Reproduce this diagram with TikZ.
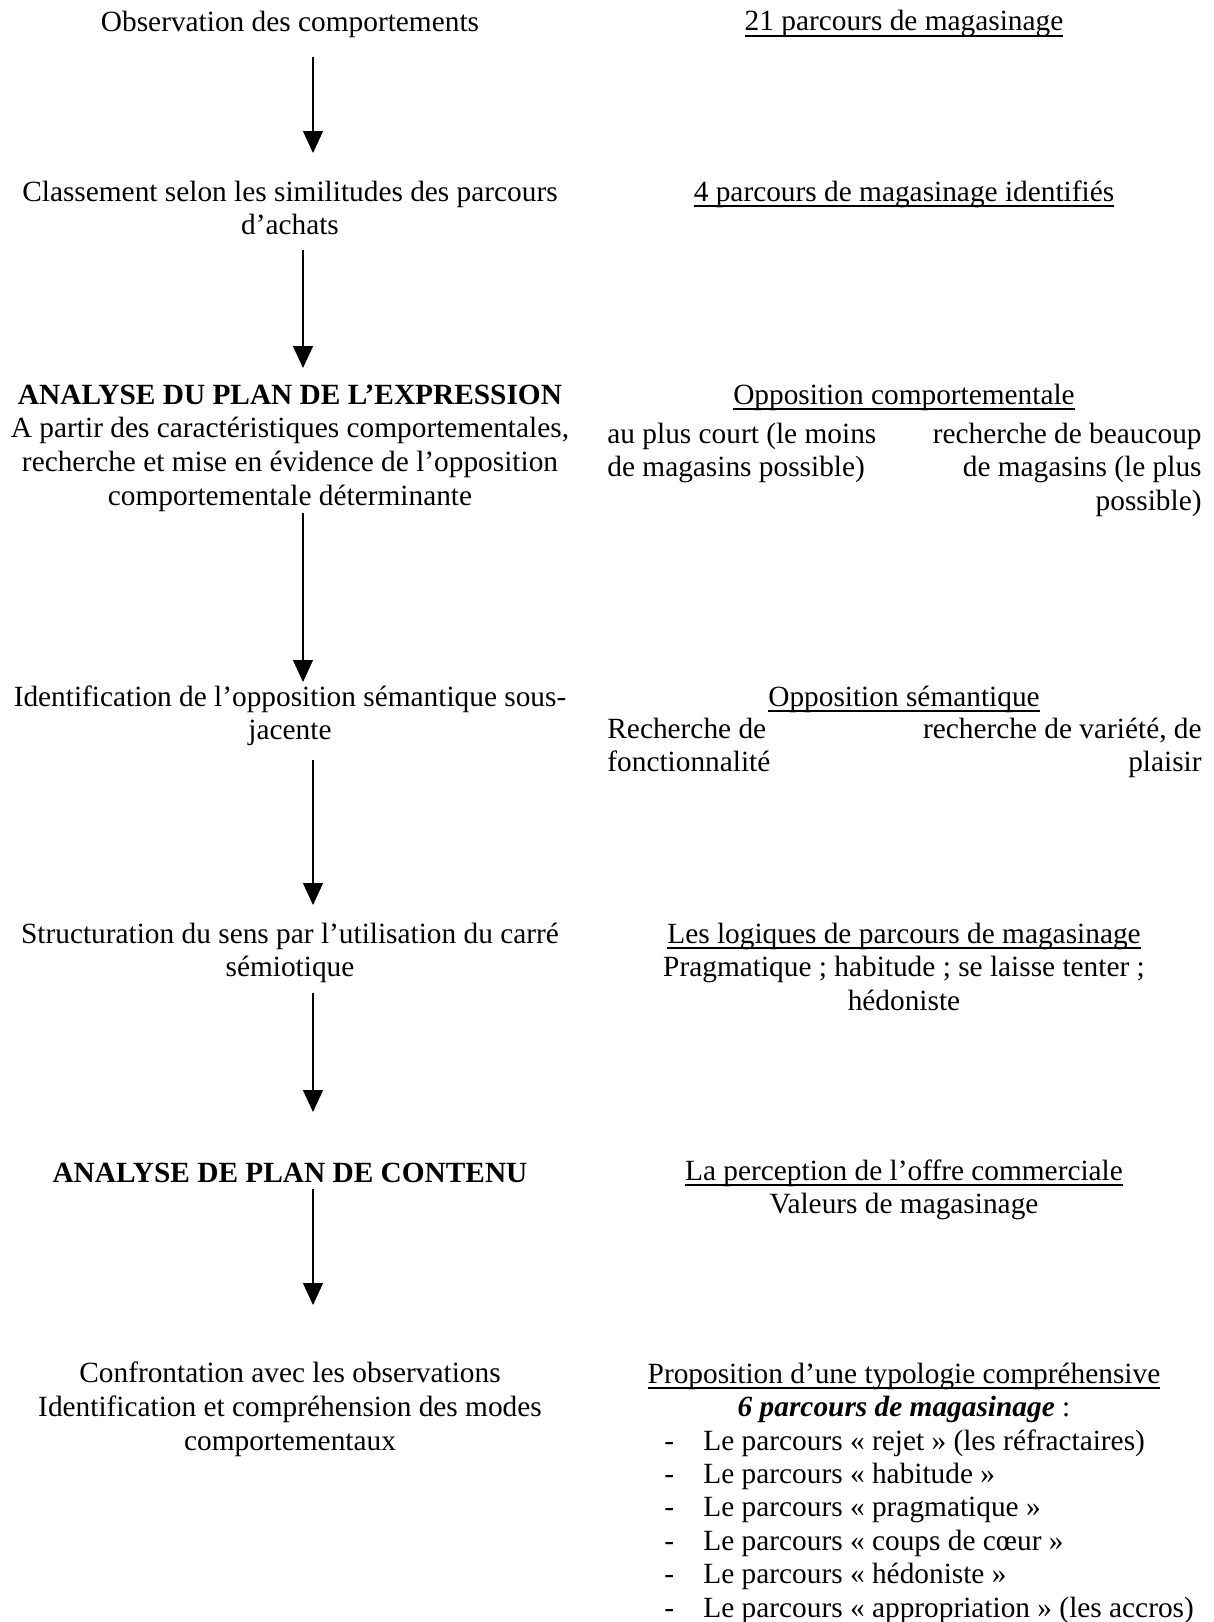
\documentclass[tikz,border=0pt]{standalone}
\usepackage{fontspec}
\setmainfont{Liberation Serif}
\usetikzlibrary{arrows.meta}
\newsavebox\ulinbox
\newcommand\ulin[1]{\sbox\ulinbox{#1}\rlap{\rule[-2.9pt]{\wd\ulinbox}{0.9pt}}\usebox\ulinbox}
\newcommand\diagfont{\fontsize{14.67}{16.8}\selectfont\lineskiplimit=-20pt\relax}
\tikzset{
  txt/.style={inner sep=0pt, font=\diagfont},
  blk/.style={txt, anchor=north, align=center},
  one/.style={txt, anchor=base},
  arr/.style={line width=0.7pt, -{Triangle[width=10pt,length=11pt]}}
}
\begin{document}
\begin{tikzpicture}[x=0.5pt,y=-0.5pt]
\useasboundingbox (0,0) rectangle (1214,1622);
% left column
\node[one] (L1) at (290,32) {Observation des comportements};
\node[blk] (L2) at (290,177.4) {\strut Classement selon les similitudes des parcours\\d’achats};
\node[blk] (L3) at (290,380.4) {\strut\textbf{ANALYSE DU PLAN DE L’EXPRESSION}\\A partir des caractéristiques comportementales,\\recherche et mise en évidence de l’opposition\\comportementale déterminante};
\node[blk] (L4) at (290,682.4) {\strut Identification de l’opposition sémantique sous-\\jacente};
\node[blk] (L5) at (290,919.4) {\strut Structuration du sens par l’utilisation du carré\\sémiotique};
\node[one] (L6) at (290,1182) {\textbf{ANALYSE DE PLAN DE CONTENU}};
\node[blk] (L7) at (290,1359) {\strut Confrontation avec les observations\\Identification et compréhension des modes\\comportementaux};
% right column
\node[one] (R1) at (904,31) {\ulin{21 parcours de magasinage}};
\node[one] (R2) at (904,201) {\ulin{4 parcours de magasinage identifiés}};
\node[one] (R3) at (904,404) {\ulin{Opposition comportementale}};
\node[txt, anchor=north west, align=left] (R3a) at (607,419.4) {\strut au plus court (le moins\\de magasins possible)};
\node[txt, anchor=north east, align=right] (R3b) at (1202,419.4) {\strut recherche de beaucoup\\de magasins (le plus\\possible)};
\node[one] (R4) at (904,706) {\ulin{Opposition sémantique}};
\node[txt, anchor=north west, align=left] (R4a) at (607,714.4) {\strut Recherche de\\fonctionnalité};
\node[txt, anchor=north east, align=right] (R4b) at (1202,714.4) {\strut recherche de variété, de\\plaisir};
\node[blk] (R5) at (904,919.4) {\strut\ulin{Les logiques de parcours de magasinage}\\Pragmatique ; habitude ; se laisse tenter ;\\hédoniste};
\node[blk] (R6) at (904,1156.4) {\strut\ulin{La perception de l’offre commerciale}\\Valeurs de magasinage};
\node[blk] (R7) at (904,1359.4) {\strut\ulin{Proposition d’une typologie compréhensive}\\\textbf{\textit{6 parcours de magasinage}} :};
\foreach \i/\t [count=\k] in {1450/{Le parcours « rejet » (les réfractaires)},
  1483.4/{Le parcours « habitude »},
  1516.8/{Le parcours « pragmatique »},
  1550.2/{Le parcours « coups de cœur »},
  1583.6/{Le parcours « hédoniste »},
  1617/{Le parcours « appropriation » (les accros)}}{
  \node[txt, anchor=base west] (d\k) at (664,\i) {-};
  \node[txt, anchor=base west] (t\k) at (703,\i) {\t};
}
% arrows
\coordinate (a1s) at (313,57);   \coordinate (a1e) at (313,153);
\coordinate (a2s) at (303,250);  \coordinate (a2e) at (303,368);
\coordinate (a3s) at (303,513);  \coordinate (a3e) at (303,682);
\coordinate (a4s) at (313,760);  \coordinate (a4e) at (313,905);
\coordinate (a5s) at (313,993);  \coordinate (a5e) at (313,1112);
\coordinate (a6s) at (313,1189); \coordinate (a6e) at (313,1305);
\draw[arr] (a1s) -- (a1e);
\draw[arr] (a2s) -- (a2e);
\draw[arr] (a3s) -- (a3e);
\draw[arr] (a4s) -- (a4e);
\draw[arr] (a5s) -- (a5e);
\draw[arr] (a6s) -- (a6e);
\end{tikzpicture}
\end{document}
